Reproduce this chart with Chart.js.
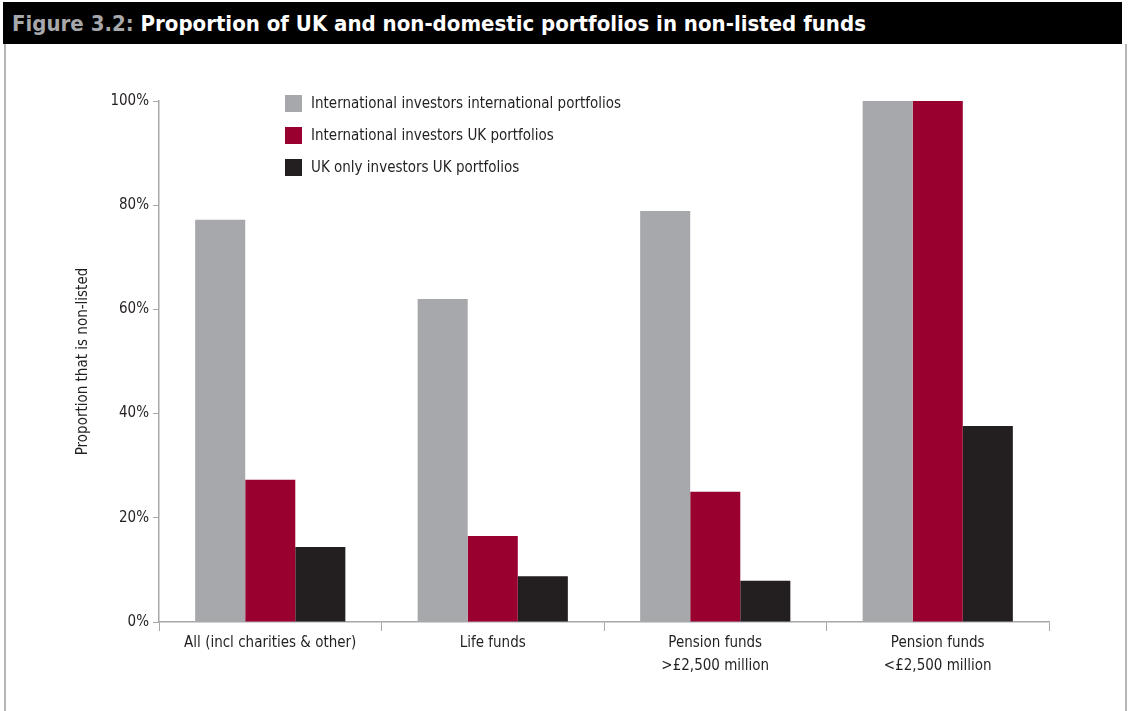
<!DOCTYPE html>
<html>
<head>
<meta charset="utf-8">
<script src="https://cdn.jsdelivr.net/npm/chart.js@4.4.1/dist/chart.umd.min.js"></script>
<style>
  body { margin: 0; background: #fff; width: 1135px; height: 711px; overflow: hidden; position: relative;
         font-family: "Liberation Sans Narrow", "DejaVu Sans Condensed", sans-serif; }
  #titlebar { position: absolute; left: 3px; top: 2px; width: 1119px; height: 42px; background: #000;
              color: #fff; font-weight: bold; font-size: 22px; line-height: 44px; padding-left: 9px; box-sizing: border-box; }
  #titlebar span { color: #a7a8ab; }
  #frame { position: absolute; left: 4px; top: 44px; width: 1123px; height: 680px;
           border-left: 2px solid #b5b5b8; border-right: 2px solid #b5b5b8; box-sizing: border-box; }
  #wrap { position: absolute; left: 0; top: 44px; width: 1135px; height: 667px; }
  #legend { position: absolute; left: 285px; top: 87px; font-size: 15px; color: #231f20; }
  .item { height: 32px; display: flex; align-items: center; }
  .box { width: 17px; height: 17px; margin-right: 9px; }
</style>
</head>
<body>
<div id="titlebar"><span>Figure 3.2:</span> Proportion of UK and non-domestic portfolios in non-listed funds</div>
<div id="frame"></div>
<div id="wrap"><canvas id="chart" width="1135" height="667"></canvas></div>
<div id="legend"></div>
<script>
const categories = [
  "All (incl charities & other)",
  "Life funds",
  ["Pension funds", ">£2,500 million"],
  ["Pension funds", "<£2,500 million"]
];
const seriesNames = [
  "International investors international portfolios",
  "International investors UK portfolios",
  "UK only investors UK portfolios"
];
const intlIntl = [77.2, 62.0, 78.9, 100];
const intlUK = [27.3, 16.5, 25.0, 100];
const ukOnlyUK = [14.4, 8.8, 7.9, 37.6];
const colours = ["#a7a8ab", "#990030", "#231f20"];

const fontFamily = '"Liberation Sans Narrow", "DejaVu Sans Condensed", sans-serif';
const values = [intlIntl, intlUK, ukOnlyUK];

const legendEl = document.getElementById("legend");
seriesNames.forEach((name, i) => {
  const row = document.createElement("div");
  row.className = "item";
  row.innerHTML = '<div class="box" style="background:' + colours[i] + '"></div>' + name;
  legendEl.appendChild(row);
});

const ctx = document.getElementById("chart").getContext("2d");
new Chart(ctx, {
  type: "bar",
  data: {
    labels: categories,
    datasets: seriesNames.map((name, i) => ({
      label: name,
      data: values[i],
      backgroundColor: colours[i],
      borderWidth: 0,
      categoryPercentage: 0.675,
      barPercentage: 1
    }))
  },
  options: {
    responsive: false,
    animation: false,
    layout: { padding: { left: 74, right: 86, top: 57, bottom: 0 } },
    plugins: {
      legend: { display: false },
      tooltip: { enabled: false }
    },
    scales: {
      x: {
        afterFit: s => { s.height = 89; },
        border: { color: "#a7a8ab", width: 1.5 },
        grid: { drawOnChartArea: false, drawTicks: true, tickLength: 9, color: "#a7a8ab", offset: true },
        ticks: { color: "#231f20", font: { family: fontFamily, size: 15, lineHeight: 1.5 }, padding: 1, maxRotation: 0 }
      },
      y: {
        min: 0,
        max: 100,
        afterFit: s => { s.width = 159 - 74; },
        border: { color: "#a7a8ab", width: 1.5 },
        grid: { drawOnChartArea: false, drawTicks: true, tickLength: 6, color: "#a7a8ab" },
        ticks: { stepSize: 20, color: "#231f20", padding: 4, font: { family: fontFamily, size: 15 },
                 callback: v => v + "%" },
        title: { display: true, text: "Proportion that is non-listed", color: "#231f20",
                 font: { family: fontFamily, size: 15 }, padding: { top: 0, bottom: 0 } }
      }
    }
  }
});
</script>
</body>
</html>
